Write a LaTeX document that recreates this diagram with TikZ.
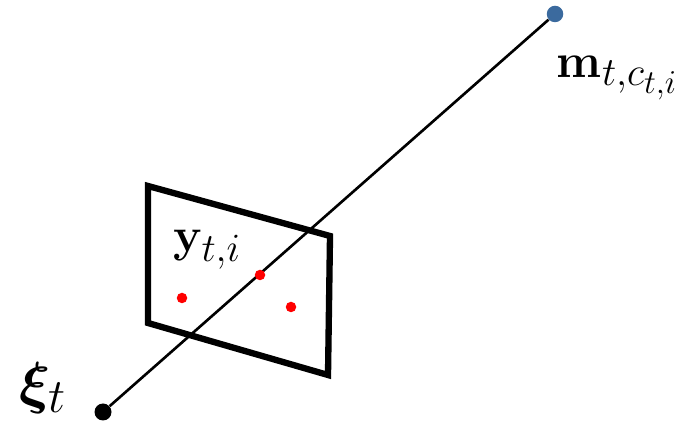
\documentclass[tikz,border=0pt]{standalone}
\usepackage{amsmath,amssymb,bm}
\usepackage{xcolor}
\definecolor{protoblue}{HTML}{3B6A9E}
\definecolor{obsred}{HTML}{FF0000}
\usepackage{tikz}
\usetikzlibrary{positioning,calc}
\tikzset{
  ptdot/.style={circle,fill=black,inner sep=0pt,minimum size=3.4mm},
  protodot/.style={circle,fill=protoblue,inner sep=0pt,minimum size=3.3mm},
  obsdot/.style={circle,fill=obsred,inner sep=0pt,minimum size=2.1mm},
  ptlabel/.style={font=\Huge,inner sep=0pt,scale=1.1},
  rayline/.style={line width=1.5pt},
  planeedge/.style={line width=3.6pt,line join=miter},
}
\begin{document}
\begin{tikzpicture}
\useasboundingbox (0,0) rectangle (13.84,8.44);
 % image plane
\coordinate (p1) at (2.96,4.72);
\coordinate (p2) at (6.60,3.72);
\coordinate (p3) at (6.56,0.94);
\coordinate (p4) at (2.96,1.98);
\draw[planeedge](p1)--(p2)--(p3)--(p4)--cycle;
 % ray from camera centre to prototype
\node[ptdot] (xi) at (2.06,0.20){};
\node[protodot] (m) at (11.10,8.16){};
\draw[rayline](xi)--(m);
\node[ptlabel,scale=1.2] (xilab) at (0.86,0.68){$\bm{\xi}_t$};
\node[ptlabel] (mlab) at (12.35,6.88){$\mathbf{m}_{t,c_{t,i}}$};
 % observations
\node[obsdot] (y1) at (3.64,2.48){};
\node[obsdot] (y2) at (5.20,2.94){};
\node[obsdot] (y3) at (5.82,2.30){};
\node[ptlabel] (ylab) at (4.14,3.44){$\mathbf{y}_{t,i}$};
\end{tikzpicture}
\end{document}
